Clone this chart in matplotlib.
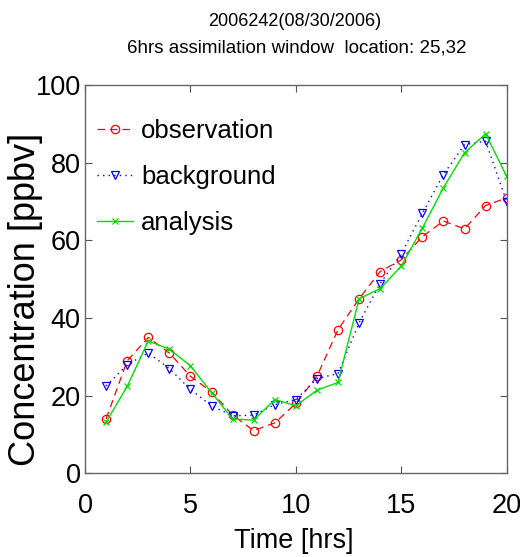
import matplotlib
matplotlib.use("Agg")
import matplotlib.pyplot as plt

# -----------------------------
# Data
# -----------------------------
hours = list(range(1, 21))
observation = [14, 29, 35, 31, 25, 21, 15, 11, 13, 18,
               25, 37, 45, 52, 55, 61, 65, 63, 69, 71]
background = [22.5, 28, 31, 27, 21.6, 17.4, 14.8, 15, 17.7, 19,
              24.4, 25.7, 38.8, 48.9, 56.6, 67, 77, 84.7, 85.6, 70]
analysis = [13.2, 22.4, 34.1, 32, 27.7, 20.8, 14, 13.7, 19, 17.4,
            21.4, 23.4, 45, 47.6, 53.4, 63.2, 73.6, 82.6, 87.5, 76.5]

x_ticks = [0, 5, 10, 15, 20]
y_ticks = [0, 20, 40, 60, 80, 100]

font = ["Liberation Sans", "DejaVu Sans"]

fig = plt.figure(figsize=(5.2, 5.57), dpi=100)
ax = fig.add_axes([0.1635, 0.1503, 0.8109, 0.6966])

ax.plot(hours, observation, color="red", linestyle=(0, (6, 4)), linewidth=0.9,
        marker="o", markersize=6, markerfacecolor="none", markeredgewidth=0.9,
        label="observation")
ax.plot(hours, background, color="blue", linestyle=(0, (1, 3)), linewidth=1.0,
        marker="v", markersize=6, markerfacecolor="none", markeredgewidth=0.9,
        label="background")
ax.plot(hours, analysis, color="#00e000", linestyle="-", linewidth=1.0,
        marker="x", markersize=5, markeredgewidth=0.9,
        label="analysis")

ax.set_xlim(0, 20)
ax.set_ylim(0, 100)
ax.set_xticks(x_ticks)
ax.set_yticks(y_ticks)
ax.tick_params(direction="in", top=True, right=True, length=5, width=0.8,
               color="#555555", labelsize=19.5)
ax.tick_params(axis="x", pad=14)
ax.tick_params(axis="y", pad=3)
for lab in ax.get_xticklabels() + ax.get_yticklabels():
    lab.set_family(font)
for s in ax.spines.values():
    s.set_color("#666666")
    s.set_linewidth(1.0)

ax.set_xlabel("Time [hrs]", fontsize=19.5, family=font)
ax.xaxis.set_label_coords(0.494, -0.14)
ax.set_ylabel("Concentration [ppbv]", fontsize=26, family=font)
ax.yaxis.set_label_coords(-0.1, 0.449)

leg = ax.legend(loc="upper left", frameon=False, prop={"family": font, "size": 18.5},
                handlelength=1.4, handletextpad=0.3, labelspacing=0.85,
                borderaxespad=0.0, bbox_to_anchor=(0.005, 0.94))

fig.text(0.566, 0.962, "2006242(08/30/2006)", ha="center", va="center",
         fontsize=13, family=font)
fig.text(0.571, 0.914, "6hrs assimilation window  location: 25,32", ha="center",
         va="center", fontsize=13.5, family=font)

fig.savefig("out.png", dpi=100)
